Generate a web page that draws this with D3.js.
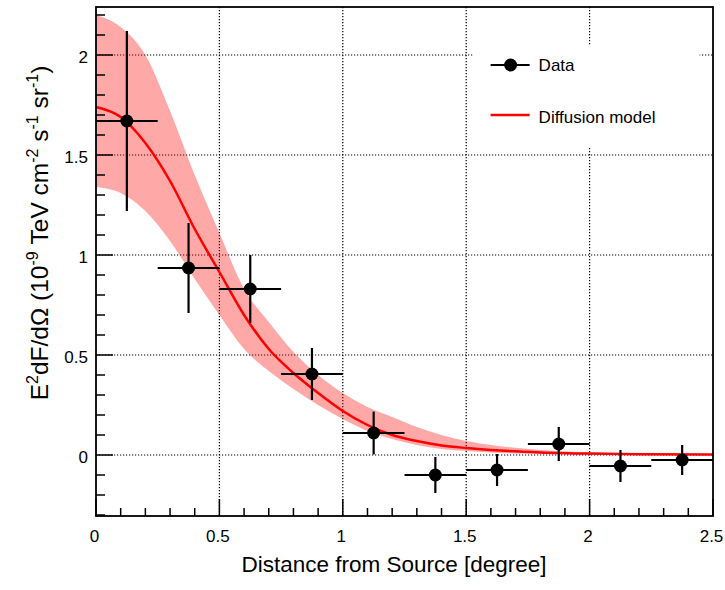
<!DOCTYPE html>
<html lang="en">
<head>
    <meta charset="UTF-8">
    <title>Diffusion model profile</title>
    <script src="https://d3js.org/d3.v7.min.js"></script>
    <style>
        body {
            margin: 0;
            background: #fff;
            font-family: 'Liberation Sans', Arial, Helvetica, sans-serif;
        }
        .tick-label {
            font-size: 17px;
            fill: #000;
        }
        .grid line {
            stroke: #000;
            stroke-width: 1.2;
            stroke-dasharray: 1.2 1.8;
        }
    </style>
</head>
<body>
    <svg width="725" height="590"></svg>
    <script>
        // measured points, one per 0.25 degree bin
        const binCenters = [0.125, 0.375, 0.625, 0.875, 1.125, 1.375, 1.625, 1.875, 2.125, 2.375];
        const binHalfWidths = [0.125, 0.125, 0.125, 0.125, 0.125, 0.125, 0.125, 0.125, 0.125, 0.125];
        const fluxValues = [1.67, 0.935, 0.83, 0.405, 0.11, -0.10, -0.075, 0.055, -0.055, -0.025];
        const fluxErrors = [0.45, 0.225, 0.17, 0.13, 0.107, 0.09, 0.08, 0.085, 0.08, 0.075];

        // diffusion model curve and its uncertainty band
        const modelX = [0, 0.1, 0.2, 0.3, 0.4, 0.5, 0.6, 0.7, 0.8, 0.9, 1.0, 1.1, 1.2, 1.3, 1.4, 1.5, 1.6, 1.8, 2.0, 2.2, 2.5];
        const modelY = [1.74, 1.69, 1.56, 1.37, 1.13, 0.915, 0.70, 0.53, 0.41, 0.31, 0.22, 0.15, 0.10, 0.07, 0.048, 0.035, 0.025, 0.013, 0.007, 0.004, 0.002];
        const bandUpper = [2.20, 2.14, 2.00, 1.72, 1.40, 1.11, 0.83, 0.665, 0.515, 0.40, 0.31, 0.24, 0.19, 0.14, 0.10, 0.07, 0.05, 0.025, 0.012, 0.006, 0.003];
        const bandLower = [1.34, 1.31, 1.22, 1.07, 0.88, 0.70, 0.53, 0.42, 0.33, 0.25, 0.18, 0.12, 0.08, 0.05, 0.03, 0.02, 0.012, 0.006, 0.003, 0.002, 0.001];

        const xMajorTicks = [0, 0.5, 1, 1.5, 2, 2.5];
        const yMajorTicks = [0, 0.5, 1, 1.5, 2];

        const svg = d3.select("svg"),
            margin = {top: 7, right: 12, bottom: 74, left: 96},
            width = +svg.attr("width") - margin.left - margin.right,
            height = +svg.attr("height") - margin.top - margin.bottom;

        const g = svg.append("g").attr("transform", `translate(${margin.left},${margin.top})`);

        const x = d3.scaleLinear().domain([0, 2.5]).range([0, width]);
        const y = d3.scaleLinear().domain([-0.305, 2.24]).range([height, 0]);

        // grid
        const grid = g.append("g").attr("class", "grid");
        grid.selectAll(".gx").data(xMajorTicks.filter(d => d > 0 && d < 2.5)).enter().append("line")
            .attr("x1", d => x(d)).attr("x2", d => x(d))
            .attr("y1", 0).attr("y2", height);
        grid.selectAll(".gy").data(yMajorTicks).enter().append("line")
            .attr("x1", 0).attr("x2", width)
            .attr("y1", d => y(d)).attr("y2", d => y(d));

        const model = modelX.map((d, i) => ({x: d, y: modelY[i], hi: bandUpper[i], lo: bandLower[i]}));

        const area = d3.area()
            .x(d => x(d.x))
            .y0(d => y(d.lo))
            .y1(d => y(d.hi))
            .curve(d3.curveMonotoneX);

        g.append("path")
            .datum(model)
            .attr("d", area)
            .attr("fill", "#ff0000")
            .attr("fill-opacity", 0.34);

        const line = d3.line()
            .x(d => x(d.x))
            .y(d => y(d.y))
            .curve(d3.curveMonotoneX);

        g.append("path")
            .datum(model)
            .attr("d", line)
            .attr("fill", "none")
            .attr("stroke", "#ff0000")
            .attr("stroke-width", 2.5);

        // data points with error bars
        const pts = binCenters.map((d, i) => ({x: d, dx: binHalfWidths[i], y: fluxValues[i], dy: fluxErrors[i]}));
        const pg = g.selectAll(".pt").data(pts).enter().append("g");
        pg.append("line")
            .attr("x1", d => x(d.x - d.dx)).attr("x2", d => x(d.x + d.dx))
            .attr("y1", d => y(d.y)).attr("y2", d => y(d.y))
            .attr("stroke", "#000").attr("stroke-width", 2.2);
        pg.append("line")
            .attr("x1", d => x(d.x)).attr("x2", d => x(d.x))
            .attr("y1", d => y(d.y - d.dy)).attr("y2", d => y(d.y + d.dy))
            .attr("stroke", "#000").attr("stroke-width", 2.2);
        pg.append("circle")
            .attr("cx", d => x(d.x)).attr("cy", d => y(d.y))
            .attr("r", 6.5).attr("fill", "#000");

        // legend (white box hides the grid behind it)
        const lg = g.append("g").attr("transform", `translate(${x(1.53)},${y(2.05)})`);
        lg.append("rect").attr("x", 0).attr("y", 0).attr("width", 226).attr("height", 103).attr("fill", "#fff");
        lg.append("line").attr("x1", 17).attr("x2", 56).attr("y1", 20).attr("y2", 20)
            .attr("stroke", "#000").attr("stroke-width", 2.2);
        lg.append("circle").attr("cx", 37).attr("cy", 20).attr("r", 6.5).attr("fill", "#000");
        lg.append("text").attr("x", 65).attr("y", 26).attr("font-size", 17).text("Data");
        lg.append("line").attr("x1", 17).attr("x2", 56).attr("y1", 70).attr("y2", 70)
            .attr("stroke", "#ff0000").attr("stroke-width", 2.5);
        lg.append("text").attr("x", 65).attr("y", 78).attr("font-size", 17).text("Diffusion model");

        // frame
        g.append("rect")
            .attr("x", 0).attr("y", 0).attr("width", width).attr("height", height)
            .attr("fill", "none").attr("stroke", "#000").attr("stroke-width", 1.8);

        // ticks: major 17px, minor 8px, pointing inward
        const xMinor = d3.range(0, 2.501, 0.1);
        g.selectAll(".xt").data(xMinor).enter().append("line")
            .attr("x1", d => x(d)).attr("x2", d => x(d))
            .attr("y1", height)
            .attr("y2", d => height - (Math.abs(d * 2 - Math.round(d * 2)) < 1e-6 ? 17 : 8))
            .attr("stroke", "#000").attr("stroke-width", 1.5);
        const yMinor = d3.range(-0.3, 2.241, 0.1);
        g.selectAll(".yt").data(yMinor).enter().append("line")
            .attr("y1", d => y(d)).attr("y2", d => y(d))
            .attr("x1", 0)
            .attr("x2", d => (Math.abs(d * 2 - Math.round(d * 2)) < 1e-6 ? 17 : 9))
            .attr("stroke", "#000").attr("stroke-width", 1.5);

        g.selectAll(".xl").data(xMajorTicks).enter().append("text")
            .attr("class", "tick-label")
            .attr("x", d => x(d) - 1.5).attr("y", height + 26)
            .attr("text-anchor", "middle")
            .text(d => d3.format("")(d));
        g.selectAll(".yl").data(yMajorTicks).enter().append("text")
            .attr("class", "tick-label")
            .attr("x", -8).attr("y", d => y(d) + 7.5)
            .attr("text-anchor", "end")
            .text(d => d3.format("")(d));

        // axis titles
        svg.append("text")
            .attr("x", 394).attr("y", 572)
            .attr("text-anchor", "middle")
            .attr("font-size", 22.5)
            .text("Distance from Source [degree]");

        const yt = svg.append("text")
            .attr("transform", "translate(48,233) rotate(-90)")
            .attr("text-anchor", "middle")
            .attr("font-size", 24.5);
        const parts = [["E", 0], ["2", 1], ["dF/d\u03A9 (10", 0], ["-9", 1], [" TeV cm", 0], ["-2", 1],
                       [" s", 0], ["-1", 1], [" sr", 0], ["-1", 1], [")", 0]];
        let up = false;
        parts.forEach(([t, sup]) => {
            const s = yt.append("tspan").text(t);
            if (sup) { s.attr("font-size", 16).attr("dy", -10); up = true; }
            else if (up) { s.attr("dy", 10); up = false; }
        });
    </script>
</body>
</html>
